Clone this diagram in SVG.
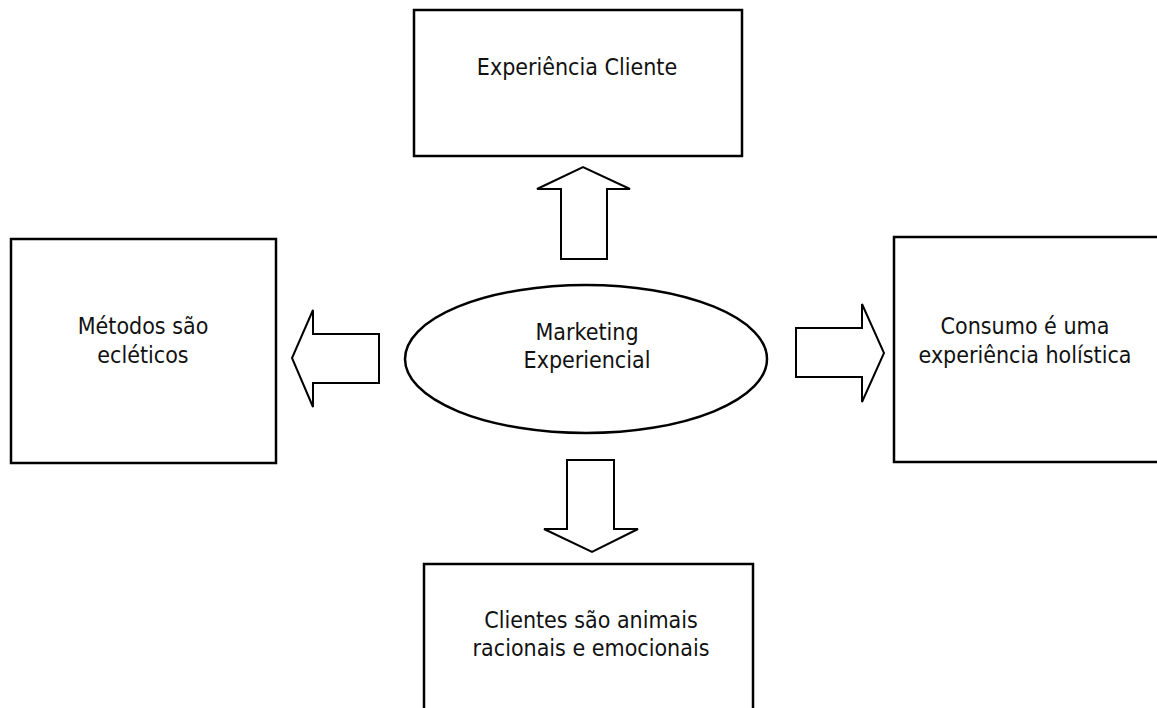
<svg xmlns="http://www.w3.org/2000/svg" width="1157" height="708" viewBox="0 0 1157 708">
<style>
.box{fill:#fff;stroke:#000;stroke-width:2.5}
.arr{fill:#fff;stroke:#000;stroke-width:2;stroke-linejoin:miter}
text{font-family:"DejaVu Sans Condensed","DejaVu Sans",sans-serif;font-size:23px;fill:#111;text-anchor:middle}
</style>
<rect width="1157" height="708" fill="#fff"/>
<g id="connectors">
<polygon class="arr" points="561,259 607,259 607,189 630,189 583,167 537,189 561,189"/>
<polygon class="arr" points="379,334 379,383 313,383 313,407 292,358 313,310 313,334"/>
<polygon class="arr" points="796,328 862,328 862,304 884,353 862,402 862,377 796,377"/>
<polygon class="arr" points="567,460 614,460 614,529 638,529 592,552 544,529 567,529"/>
</g>
<g id="experiencia-cliente">
<rect class="box" x="414" y="10" width="328" height="146"/>
<text x="577" y="75">Experiência Cliente</text>
</g>
<g id="metodos">
<rect class="box" x="11" y="239" width="265" height="224"/>
<text x="143" y="334">Métodos são</text>
<text x="143" y="363">ecléticos</text>
</g>
<g id="marketing">
<ellipse class="box" cx="586" cy="359" rx="181" ry="74"/>
<text x="587" y="340">Marketing</text>
<text x="587" y="368">Experiencial</text>
</g>
<g id="consumo">
<rect class="box" x="894" y="237" width="275" height="225"/>
<text x="1025" y="334">Consumo é uma</text>
<text x="1025" y="363">experiência holística</text>
</g>
<g id="clientes">
<rect class="box" x="424" y="564" width="329" height="160"/>
<text x="591" y="628">Clientes são animais</text>
<text x="591" y="656">racionais e emocionais</text>
</g>
</svg>
